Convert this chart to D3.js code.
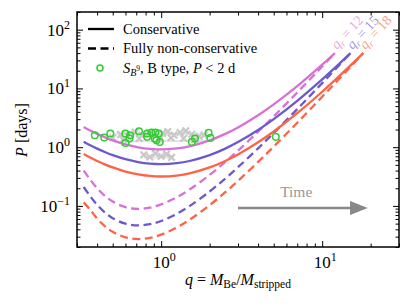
<!DOCTYPE html>
<html lang="en">
<head>
<meta charset="UTF-8">
<title>P vs q</title>
<script src="https://cdn.jsdelivr.net/npm/d3@7"></script>
<style>
  body { margin: 0; background: #fff; }
  text { font-family: "Liberation Serif", "DejaVu Serif", serif; }
</style>
</head>
<body>
<div id="chart"></div>
<script>
// mass ratio samples (q = M_Be / M_stripped)
var qMag = [0.33,0.36,0.4,0.45,0.5,0.6,0.72,0.85,1,1.25,1.5,2,2.5,3,4,5,7,10,12];
var qBlue = [0.33,0.36,0.4,0.45,0.5,0.6,0.72,0.85,1,1.25,1.5,2,2.5,3,4,5,7,10,12,15];
var qRed = [0.33,0.36,0.4,0.45,0.5,0.6,0.72,0.85,1,1.25,1.5,2,2.5,3,4,5,7,10,12,15,18];

// periods in days, conservative
var pMagCons = [2.205,1.942,1.684,1.461,1.305,1.113,0.994,0.935,0.916,0.951,1.035,1.305,1.684,2.172,3.496,5.344,10.94,25.37,40];
var pBlueCons = [1.239,1.091,0.946,0.821,0.733,0.625,0.558,0.525,0.515,0.534,0.582,0.733,0.946,1.221,1.964,3.003,6.15,14.26,22.48,40];
var pRedCons = [0.764,0.672,0.583,0.506,0.452,0.385,0.344,0.324,0.317,0.329,0.358,0.452,0.583,0.752,1.21,1.85,3.789,8.78,13.85,24.65,40];
// fully non-conservative
var pMagNon = [0.40,0.288,0.2,0.146,0.1185,0.0954,0.0893,0.0935,0.1062,0.1406,0.19,0.337,0.56,0.873,1.835,3.347,8.53,23.6,40];
var pBlueNon = [0.21,0.1501,0.1043,0.0762,0.0619,0.0498,0.0466,0.0488,0.0554,0.0734,0.0991,0.176,0.292,0.456,0.957,1.747,4.45,12.32,20.87,40];
var pRedNon = [0.115,0.088,0.0611,0.0446,0.0362,0.0292,0.0273,0.0286,0.0325,0.043,0.0581,0.1031,0.171,0.267,0.561,1.023,2.607,7.22,12.23,23.4,40];

var qrLabels = ["12","15","18"];

// observed B type systems, P < 2 d
var obsQ = [0.387,0.443,0.483,0.600,0.642,0.636,0.600,0.728,0.817,0.817,0.870,0.921,0.966,0.912,0.934,0.980,1.55,1.62,1.97,2.02,5.15];
var obsP = [1.60,1.46,1.71,1.71,1.60,1.40,1.18,1.87,1.71,1.50,1.78,1.78,1.71,1.40,1.31,1.23,1.23,1.40,1.75,1.44,1.50];

// grey background sample
var greyQ = [0.50,0.56,0.62,0.69,0.76,0.84,0.92,1.02,1.10,1.20,1.31,1.42,1.55,1.72,0.58,0.73,0.98,1.15,1.38,1.62,1.85,0.78,0.85,0.92,1.00,1.08,1.16];
var greyP = [1.45,1.65,1.55,1.80,1.60,1.75,1.62,1.72,1.85,1.60,1.78,1.90,1.66,1.52,1.35,1.40,1.38,1.45,1.42,1.34,1.60,0.74,0.68,0.78,0.70,0.76,0.67];
var greyBarLo = [0.52,0.60,0.78];
var greyBarHi = [1.80,1.90,1.20];
var greyBarP = [1.70,1.27,0.67];

var xMajor = [1,10];
var xMinor = [0.3,0.4,0.5,0.6,0.7,0.8,0.9,2,3,4,5,6,7,8,9,20,30];
var yMajor = [0.1,1,10,100];
var yMajorExp = ["−1","0","1","2"];

var width = 415, height = 306;
var margin = {left:77, right:16, top:12, bottom:59};

var svg = d3.select("#chart").append("svg").attr("width",width).attr("height",height);

var x = d3.scaleLog().domain([0.3,30]).range([margin.left,width-margin.right]);
var y = d3.scaleLog().domain([0.02,200]).range([height-margin.bottom,margin.top]);

var yMinor = [];
[0.01,0.1,1,10,100].forEach(function(d){
    for (var k=2;k<10;k++){ var v=d*k; if (v>=0.02 && v<=200) yMinor.push(v); }
});

svg.append("defs").append("clipPath").attr("id","clip")
    .append("rect").attr("x",margin.left).attr("y",margin.top)
    .attr("width",width-margin.left-margin.right).attr("height",height-margin.top-margin.bottom);

var plot = svg.append("g").attr("clip-path","url(#clip)");

// grey sample
greyBarP.forEach(function(p,i){
    plot.append("line").attr("x1",x(greyBarLo[i])).attr("x2",x(greyBarHi[i]))
        .attr("y1",y(p)).attr("y2",y(p)).attr("stroke","#e4e4e4").attr("stroke-width",2);
});
greyQ.forEach(function(q,i){
    var cx=x(q), cy=y(greyP[i]), s=3.3;
    plot.append("path").attr("d","M"+(cx-s)+","+(cy-s)+"L"+(cx+s)+","+(cy+s)+"M"+(cx-s)+","+(cy+s)+"L"+(cx+s)+","+(cy-s))
        .attr("stroke","#c8c8c8").attr("stroke-width",2.2);
});

var line = d3.line().x(function(d){return x(d[0]);}).y(function(d){return y(d[1]);}).curve(d3.curveCatmullRom);

var curves = [
    {q:qMag, p:pMagNon, c:"#da70d6", dash:true},
    {q:qBlue, p:pBlueNon, c:"#6a5acd", dash:true},
    {q:qRed, p:pRedNon, c:"#ff6347", dash:true},
    {q:qMag, p:pMagCons, c:"#da70d6", dash:false},
    {q:qBlue, p:pBlueCons, c:"#6a5acd", dash:false},
    {q:qRed, p:pRedCons, c:"#ff6347", dash:false}
];
curves.forEach(function(cv){
    plot.append("path").datum(d3.zip(cv.q,cv.p))
        .attr("d",line).attr("fill","none").attr("stroke",cv.c)
        .attr("stroke-width",2.3)
        .attr("stroke-dasharray",cv.dash?"8,4.5":null);
});

// observed systems
obsQ.forEach(function(q,i){
    plot.append("circle").attr("cx",x(q)).attr("cy",y(obsP[i])).attr("r",3.3)
        .attr("fill","none").attr("stroke","#33cc33").attr("stroke-width",1.5);
});

// q_r labels
var lblColors = ["#da70d6","#6a5acd","#ff6347"];
var lblEnd = [qMag, qBlue, qRed];
lblEnd.forEach(function(qs,i){
    var qe=qs[qs.length-1];
    var t = plot.append("text")
        .attr("transform","translate("+(x(qe)+2)+","+(y(40)-3)+") rotate(-47)")
        .attr("font-size",14).attr("fill",lblColors[i]).attr("fill-opacity",0.65);
    t.append("tspan").attr("font-style","italic").text("q");
    t.append("tspan").attr("font-size",10).attr("font-style","italic").attr("dy",3).text("r");
    t.append("tspan").attr("dy",-3).text(" = "+qrLabels[i]);
});

// time arrow
var ax0 = x(3), ax1 = x(19.2), axh = x(14.9), ay = y(0.092);
svg.append("line").attr("x1",ax0).attr("x2",axh+1).attr("y1",ay).attr("y2",ay)
    .attr("stroke","#888").attr("stroke-width",2.6);
svg.append("path").attr("d","M"+axh+","+(ay-7)+"L"+ax1+","+ay+"L"+axh+","+(ay+7)+"Z").attr("fill","#888");
svg.append("text").attr("x",x(6.9)).attr("y",y(0.092)-11).attr("text-anchor","middle")
    .attr("font-size",15.5).attr("fill","#999").text("Time");

// axes (ticks inward on all sides)
var gx = svg.append("g").attr("transform","translate(0,"+(height-margin.bottom)+")");
gx.call(d3.axisBottom(x).tickValues(xMajor).tickSize(-6).tickFormat(""));
var gx2 = svg.append("g").attr("transform","translate(0,"+(height-margin.bottom)+")");
gx2.call(d3.axisBottom(x).tickValues(xMinor).tickSize(-3.5).tickFormat(""));
var gxt = svg.append("g").attr("transform","translate(0,"+margin.top+")");
gxt.call(d3.axisTop(x).tickValues(xMajor).tickSize(-6).tickFormat(""));
var gxt2 = svg.append("g").attr("transform","translate(0,"+margin.top+")");
gxt2.call(d3.axisTop(x).tickValues(xMinor).tickSize(-3.5).tickFormat(""));
var gy = svg.append("g").attr("transform","translate("+margin.left+",0)");
gy.call(d3.axisLeft(y).tickValues(yMajor).tickSize(-6).tickFormat(""));
var gy2 = svg.append("g").attr("transform","translate("+margin.left+",0)");
gy2.call(d3.axisLeft(y).tickValues(yMinor).tickSize(-3.5).tickFormat(""));
var gyr = svg.append("g").attr("transform","translate("+(width-margin.right)+",0)");
gyr.call(d3.axisRight(y).tickValues(yMajor).tickSize(-6).tickFormat(""));
var gyr2 = svg.append("g").attr("transform","translate("+(width-margin.right)+",0)");
gyr2.call(d3.axisRight(y).tickValues(yMinor).tickSize(-3.5).tickFormat(""));
svg.selectAll(".domain").remove();
svg.selectAll(".tick line").attr("stroke","#000").attr("stroke-width",1);

svg.append("rect").attr("x",margin.left).attr("y",margin.top)
    .attr("width",width-margin.left-margin.right).attr("height",height-margin.top-margin.bottom)
    .attr("fill","none").attr("stroke","#000").attr("stroke-width",1.5);

// tick labels
yMajor.forEach(function(v,i){
    var t = svg.append("text").attr("x",margin.left-7).attr("y",y(v)+6).attr("text-anchor","end").attr("font-size",17);
    t.append("tspan").text("10");
    t.append("tspan").attr("font-size",12).attr("dy",-7).text(yMajorExp[i]);
});
xMajor.forEach(function(v){
    var t = svg.append("text").attr("x",x(v)+3).attr("y",height-margin.bottom+21).attr("text-anchor","middle").attr("font-size",17);
    t.append("tspan").text("10");
    t.append("tspan").attr("font-size",12).attr("dy",-7).text(Math.round(Math.log10(v)));
});

// axis titles
var xl = svg.append("text").attr("x",(margin.left+width-margin.right)/2).attr("y",285)
    .attr("text-anchor","middle").attr("font-size",16);
xl.append("tspan").attr("font-style","italic").text("q");
xl.append("tspan").text(" = ");
xl.append("tspan").attr("font-style","italic").text("M");
xl.append("tspan").attr("font-size",11.5).attr("dy",3).text("Be");
xl.append("tspan").attr("dy",-3).text("/");
xl.append("tspan").attr("font-style","italic").text("M");
xl.append("tspan").attr("font-size",11.5).attr("dy",3).text("stripped");

var yl = svg.append("text").attr("transform","translate(27,130) rotate(-90)")
    .attr("text-anchor","middle").attr("font-size",16);
yl.append("tspan").attr("font-style","italic").text("P");
yl.append("tspan").text(" [days]");

// legend
var lx = 88, lw = 26, tx = 123;
svg.append("line").attr("x1",lx).attr("x2",lx+lw).attr("y1",29).attr("y2",29).attr("stroke","#000").attr("stroke-width",2.3);
svg.append("line").attr("x1",lx).attr("x2",lx+lw).attr("y1",48.5).attr("y2",48.5).attr("stroke","#000").attr("stroke-width",2.3).attr("stroke-dasharray","8,4.5");
svg.append("circle").attr("cx",lx+12).attr("cy",68).attr("r",3).attr("fill","none").attr("stroke","#33cc33").attr("stroke-width",1.5);
svg.append("text").attr("x",tx).attr("y",33.5).attr("font-size",14.5).text("Conservative");
svg.append("text").attr("x",tx).attr("y",53).attr("font-size",14.5).text("Fully non-conservative");
var l3 = svg.append("text").attr("x",tx).attr("y",72.5).attr("font-size",14.5);
l3.append("tspan").attr("font-style","italic").text("S");
l3.append("tspan").attr("font-size",10).attr("font-style","italic").attr("dy",3).text("B");
l3.append("tspan").attr("font-size",7.5).attr("dy",-4.5).text("9");
l3.append("tspan").attr("dy",1.5).text(", B type, ");
l3.append("tspan").attr("font-style","italic").text("P");
l3.append("tspan").text(" < 2 d");
</script>
</body>
</html>
